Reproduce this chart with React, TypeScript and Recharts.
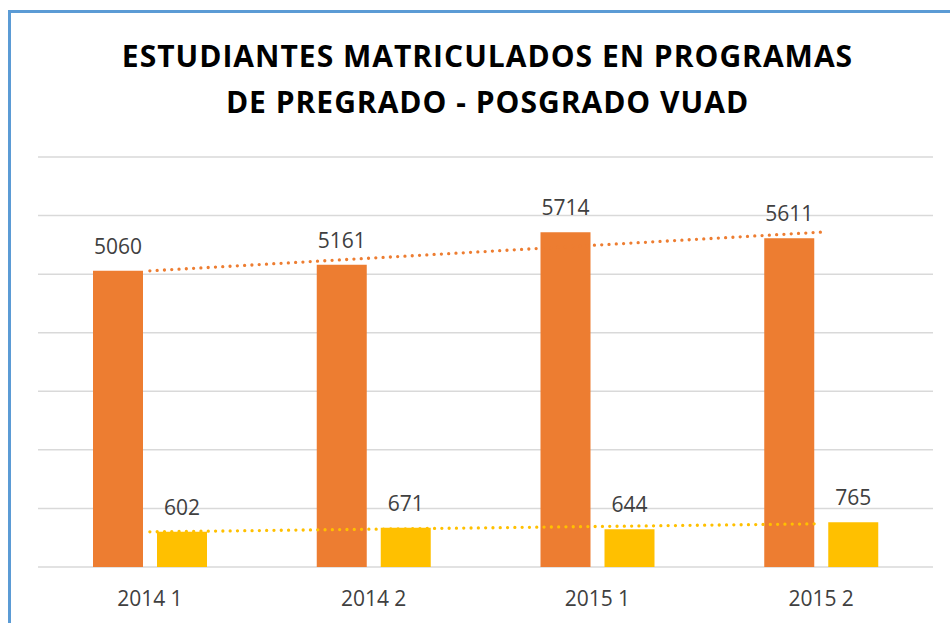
import React from 'react';
import { ComposedChart, Bar, Line, XAxis, YAxis, CartesianGrid, LabelList } from 'recharts';

const categories = ['2014 1', '2014 2', '2015 1', '2015 2'];
const pregrado = [5060, 5161, 5714, 5611];
const posgrado = [602, 671, 644, 765];
// trendline values (at first and last category)
const trendPregrado = [5056, null, null, 5717];
const trendPosgrado = [600, null, null, 738];
const yTicks = [0, 1000, 2000, 3000, 4000, 5000, 6000, 7000];
const titleLines = ['ESTUDIANTES MATRICULADOS EN PROGRAMAS', 'DE PREGRADO - POSGRADO VUAD'];

const data = categories.map((c, i) => ({
  cat: c,
  pre: pregrado[i],
  pos: posgrado[i],
  tPre: trendPregrado[i],
  tPos: trendPosgrado[i],
}));

const ORANGE = '#ED7D31';
const YELLOW = '#FFC000';
const TEXT = '#404040';
const FONT = '"Open Sans", sans-serif';

export default function App() {
  return (
    <div style={{ position: 'absolute', left: 0, top: 0, width: 950, height: 623, background: '#fff', overflow: 'hidden' }}>
      <div style={{ position: 'absolute', left: 8, top: 10, width: 1000, height: 700, borderLeft: '3px solid #5B9BD5', borderTop: '3px solid #5B9BD5' }} />
      <div style={{ position: 'absolute', left: 0, top: 33, width: 975, textAlign: 'center', fontFamily: FONT, fontWeight: 700, fontSize: 30, letterSpacing: '1px', lineHeight: '46px', color: '#000' }}>
        {titleLines.map((t) => (
          <div key={t}>{t}</div>
        ))}
      </div>
      <div style={{ position: 'absolute', left: 0, top: 0 }}>
        <ComposedChart width={950} height={623} data={data} margin={{ top: 157, right: 17, bottom: 0, left: 38 }} barGap={14} barSize={50}>
          <CartesianGrid vertical={false} stroke="#D9D9D9" strokeWidth={1.5} />
          <YAxis hide domain={[0, 7000]} ticks={yTicks} />
          <XAxis dataKey="cat" height={56} axisLine={false} tickLine={false} tickSize={0} tickMargin={24} tick={{ fill: TEXT, fontSize: 21, fontFamily: FONT }} />
          <Bar dataKey="pre" fill={ORANGE} isAnimationActive={false}>
            <LabelList dataKey="pre" position="top" offset={17} fill={TEXT} fontSize={21} fontFamily={FONT} />
          </Bar>
          <Bar dataKey="pos" fill={YELLOW} isAnimationActive={false}>
            <LabelList dataKey="pos" position="top" offset={17} fill={TEXT} fontSize={21} fontFamily={FONT} />
          </Bar>
          <Line dataKey="tPre" connectNulls dot={false} activeDot={false} stroke={ORANGE} strokeWidth={3.3} strokeDasharray="0 7.3" strokeLinecap="round" isAnimationActive={false} />
          <Line dataKey="tPos" connectNulls dot={false} activeDot={false} stroke={YELLOW} strokeWidth={3.3} strokeDasharray="0 7.3" strokeLinecap="round" isAnimationActive={false} />
        </ComposedChart>
      </div>
    </div>
  );
}
